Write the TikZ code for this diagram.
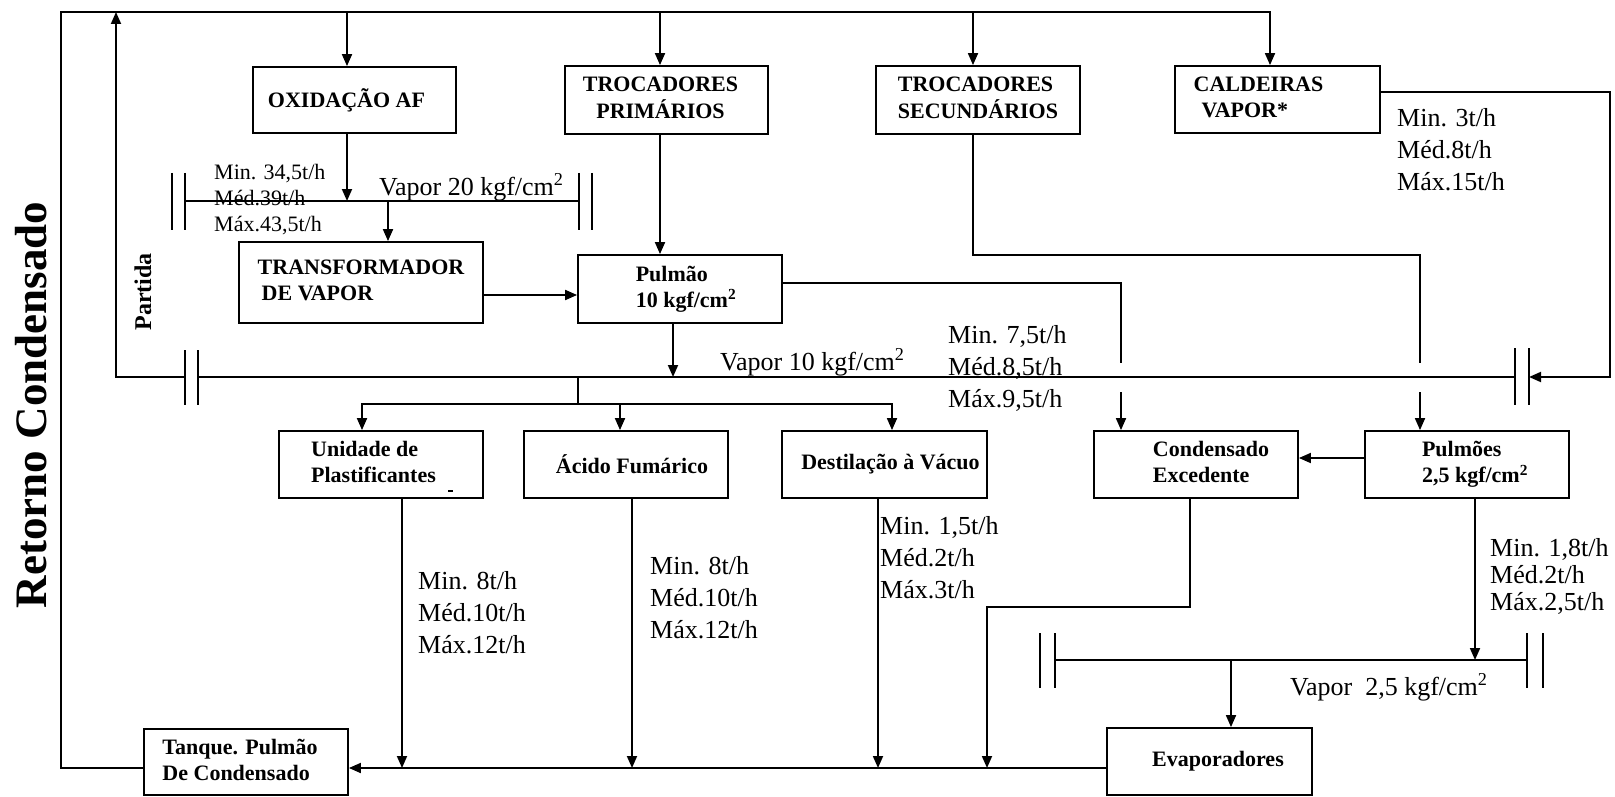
\documentclass[tikz,border=0pt]{standalone}
\usepackage{fontspec}
\setmainfont{Liberation Serif}
\usetikzlibrary{arrows.meta}
\newcommand\bxfont{\fontsize{22}{26}\selectfont\bfseries}
\newcommand\flowfont{\fontsize{26}{32}\selectfont}
\newcommand\tl[1]{\begin{tabular}{@{}l@{}}#1\end{tabular}}
\newcommand\tc[1]{\begin{tabular}{@{}c@{}}#1\end{tabular}}
\newcommand\fl[1]{\begin{tabular}[t]{@{}l@{}}#1\end{tabular}}
\begin{document}
\begin{tikzpicture}[x=1pt,y=-1pt,
  ln/.style={line width=1.8pt},
  arr/.style={line width=1.8pt,-{Triangle[length=12pt,width=10pt]}},
  box/.style={draw,line width=1.8pt,inner sep=0pt,minimum width=204pt,minimum height=67pt,font=\bxfont},
  lbl/.style={font=\flowfont,anchor=base west,inner sep=0pt},
  valve/.style={line width=1.8pt}]
\useasboundingbox (0,0) rectangle (1615,797);

% ---------- boxes ----------
\node[box,minimum width=203pt,minimum height=66pt] (oxid) at (354.5,100) {OXIDAÇÃO AF\hspace*{16pt}};
\node[box,minimum width=203pt,minimum height=68pt] (trocp) at (666.5,100) {\tc{TROCADORES\\PRIMÁRIOS}\hspace*{12pt}};
\node[box,minimum height=68pt] (trocs) at (978,100) {\tl{TROCADORES\\SECUNDÁRIOS}};
\node[box,minimum width=205pt] (cald) at (1277.5,99.5) {\tl{CALDEIRAS\\\hspace*{8pt}VAPOR*}\hspace*{38pt}};
\node[box,minimum width=244pt,minimum height=81pt] (transf) at (361,282.5) {\raisebox{-9pt}{\tl{TRANSFORMADOR\\\hspace*{4pt}DE VAPOR}}};
\node[box,minimum height=68pt] (pulmao) at (680,289) {\hspace*{12pt}\tl{Pulmão\\10 kgf/cm\textsuperscript{2}}};
\node[box] (unid) at (381,464.5) {\tl{Unidade de\\Plastificantes}\hspace*{15pt}};
\node[box] (acido) at (626,464.5) {\hspace*{12pt}Ácido Fumárico};
\node[box,minimum width=205pt] (destil) at (884.5,464.5) {\hspace*{12pt}Destilação à Vácuo};
\node[box] (conde) at (1196,464.5) {\hspace*{30pt}\tl{Condensado\\Excedente}};
\node[box] (pulmoes) at (1467,464.5) {\hspace*{16pt}\tl{Pulmões\\2,5 kgf/cm\textsuperscript{2}}};
\node[box,minimum height=66pt] (tanque) at (246,762) {\tl{Tanque. Pulmão\\De Condensado}\hspace*{12pt}};
\node[box,minimum width=205pt] (evap) at (1209.5,761.5) {\hspace*{17pt}\raisebox{-4pt}{Evaporadores}};
\draw[line width=1.5pt] (448,491) -- (453,491);

% ---------- side texts ----------
\node[font=\fontsize{45}{50}\selectfont\bfseries,rotate=90] (ret) at (31,405) {Retorno Condensado};
\node[font=\fontsize{24}{28}\selectfont\bfseries,rotate=90] (partida) at (143,292) {Partida};

% ---------- valves / headers ----------
\coordinate (v20L) at (185,201); \coordinate (v20R) at (579,201);
\draw[valve] (172,173) -- (172,230);
\draw[valve] (185,173) -- (185,230);
\draw[valve] (579,173) -- (579,230);
\draw[valve] (592,173) -- (592,230);
\draw[ln] (v20L) -- (v20R);

\coordinate (v10L) at (185,377); \coordinate (v10Li) at (198,377);
\coordinate (v10R) at (1529,377); \coordinate (v10Ri) at (1515,377);
\draw[valve] (185,350) -- (185,405);
\draw[valve] (198,350) -- (198,405);
\draw[valve] (1515,348) -- (1515,405);
\draw[valve] (1529,348) -- (1529,405);
\draw[ln] (v10Li) -- (v10Ri);

\coordinate (v25L) at (1055,660); \coordinate (v25R) at (1527,660);
\draw[valve] (1040,633) -- (1040,688);
\draw[valve] (1055,633) -- (1055,688);
\draw[valve] (1527,633) -- (1527,688);
\draw[valve] (1543,633) -- (1543,688);
\draw[ln] (v25L) -- (v25R);

% ---------- labels ----------
\node[lbl,font=\fontsize{22}{26}\selectfont] (f345) at (214,179) {\fl{Min. 34,5t/h\\Méd.39t/h\\Máx.43,5t/h}};
\node[lbl] (v20t) at (379,195) {Vapor 20 kgf/cm\textsuperscript{2}};
\node[lbl] (v10t) at (720,370) {Vapor 10 kgf/cm\textsuperscript{2}};
\node[lbl] (f75) at (948,343) {\fl{Min. 7,5t/h\\Méd.8,5t/h\\Máx.9,5t/h}};
\node[lbl] (f3) at (1397,127) {\fl{Min. 3t/h\\Méd.8t/h\\Máx.15t/h}};
\node[lbl] (f8a) at (418,589) {\fl{Min. 8t/h\\Méd.10t/h\\Máx.12t/h}};
\node[lbl] (f8b) at (650,574) {\fl{Min. 8t/h\\Méd.10t/h\\Máx.12t/h}};
\node[lbl] (f15) at (880,534) {\fl{Min. 1,5t/h\\Méd.2t/h\\Máx.3t/h}};
\node[lbl,font=\fontsize{26}{27}\selectfont] (f18) at (1490,556) {\fl{Min. 1,8t/h\\Méd.2t/h\\Máx.2,5t/h}};
\node[lbl] (v25t) at (1290,695) {Vapor\ \ 2,5 kgf/cm\textsuperscript{2}};

% ---------- connectors ----------
\coordinate (bl) at (61,768); \coordinate (tlc) at (61,12); \coordinate (trc) at (1270,12);
\draw[arr] (bl -| tanque.west) -- (bl) -- (tlc) -- (trc) -- (trc |- cald.north);
\coordinate (t1) at (347,12); \coordinate (t2) at (660,12); \coordinate (t3) at (973,12);
\draw[arr] (t1) -- (t1 |- oxid.north);
\draw[arr] (t2) -- (t2 |- trocp.north);
\draw[arr] (t3) -- (t3 |- trocs.north);

\coordinate (pa) at (116,377); \coordinate (pb) at (116,12);
\draw[arr] (v10L) -- (pa) -- (pb);

\coordinate (ox) at (347,201);
\draw[arr] (oxid.south -| ox) -- (ox);
\coordinate (tv) at (388,201);
\draw[arr] (tv) -- (tv |- transf.north);
\coordinate (tp) at (483,295);
\draw[arr] (transf.east |- tp) -- (pulmao.west |- tp);
\draw[arr] (trocp.south -| t2) -- (pulmao.north -| t2);
\coordinate (pm) at (673,377);
\draw[arr] (pulmao.south -| pm) -- (pm);

\coordinate (pr1) at (1121,283); \coordinate (g1a) at (1121,363); \coordinate (g1b) at (1121,392);
\draw[ln] (pulmao.east |- pr1) -- (pr1) -- (g1a);
\draw[arr] (g1b) -- (g1b |- conde.north);

\coordinate (s1) at (973,255); \coordinate (s2) at (1420,255);
\coordinate (g2a) at (1420,363); \coordinate (g2b) at (1420,392);
\draw[ln] (trocs.south -| s1) -- (s1) -- (s2) -- (g2a);
\draw[arr] (g2b) -- (g2b |- pulmoes.north);

\coordinate (c1) at (1610,92); \coordinate (c2) at (1610,377);
\draw[arr] (cald.east |- c1) -- (c1) -- (c2) -- (v10R);

\coordinate (d0) at (578,377); \coordinate (d1) at (578,404);
\coordinate (dl) at (362,404); \coordinate (dm) at (620,404); \coordinate (dr) at (892,404);
\draw[ln] (d0) -- (d1);
\draw[arr] (d1) -- (dl) -- (dl |- unid.north);
\draw[arr] (d1) -- (dr) -- (dr |- destil.north);
\draw[arr] (dm) -- (dm |- acido.north);

\coordinate (h1) at (1365,458);
\draw[arr] (pulmoes.west |- h1) -- (conde.east |- h1);
\coordinate (pd) at (1475,660);
\draw[arr] (pulmoes.south -| pd) -- (pd);
\coordinate (e1) at (1231,660);
\draw[arr] (e1) -- (e1 |- evap.north);

\draw[arr] (evap.west |- bl) -- (tanque.east |- bl);
\coordinate (u1) at (402,768); \coordinate (a1) at (632,768); \coordinate (de1) at (878,768);
\draw[arr] (unid.south -| u1) -- (u1);
\draw[arr] (acido.south -| a1) -- (a1);
\draw[arr] (destil.south -| de1) -- (de1);
\coordinate (k1) at (1190,607); \coordinate (k2) at (987,607); \coordinate (k3) at (987,768);
\draw[arr] (conde.south -| k1) -- (k1) -- (k2) -- (k3);
\end{tikzpicture}
\end{document}
